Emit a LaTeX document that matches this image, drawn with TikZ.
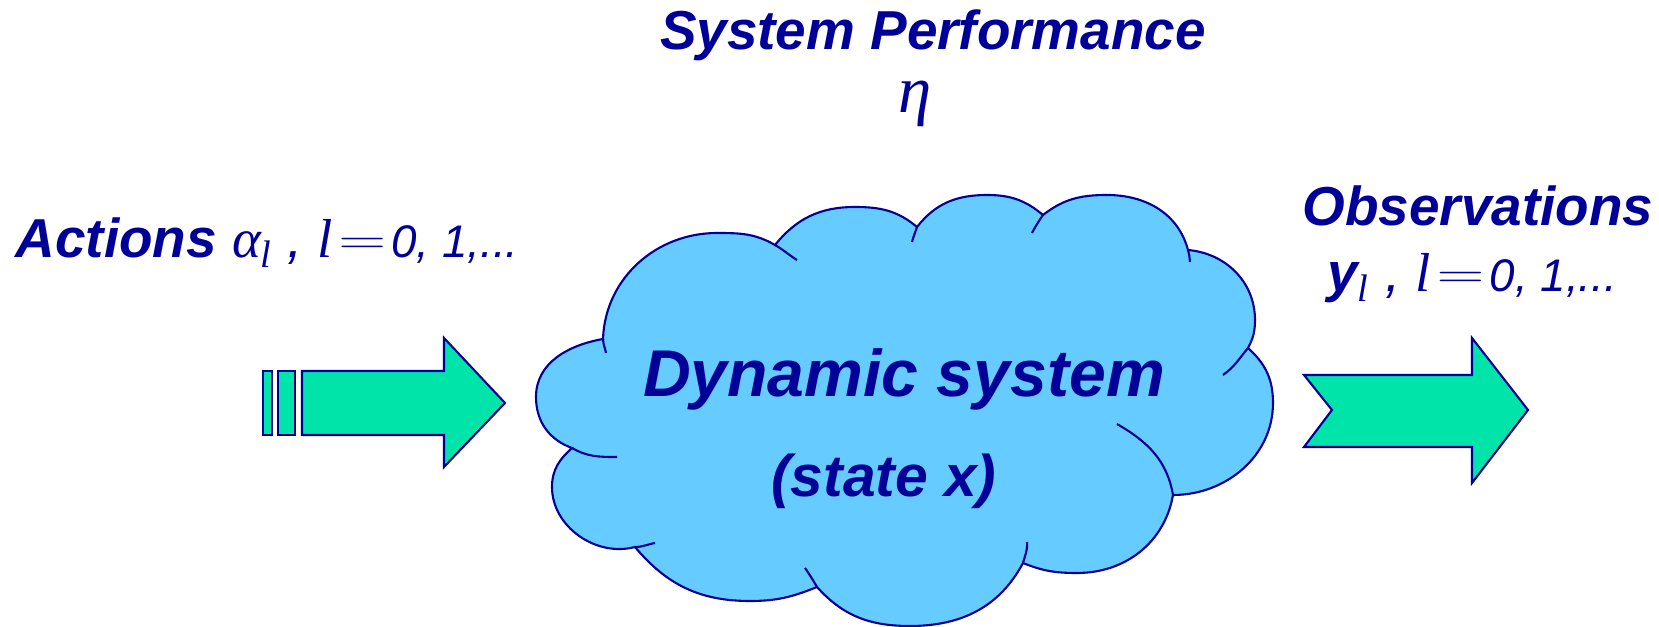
\documentclass[tikz,border=0pt]{standalone}
\usepackage{fontspec}
\setmainfont{Liberation Sans}
\newfontfamily\greekfont{Liberation Serif}
\usepackage{tikz}
\definecolor{navy}{RGB}{0,0,153}
\definecolor{cloudblue}{RGB}{102,204,255}
\definecolor{arrowgreen}{RGB}{0,228,170}
\newcommand{\idxrange}{{\greekfont l}\kern1.5pt{\fontsize{13}{15}\selectfont\raisebox{1.3pt}{\scalebox{1.5}[1]{$=$}}\kern1.5pt 0, 1,...}}

\begin{document}
\begin{tikzpicture}[x=0.01cm, y=0.01cm,
    outline/.style={draw=navy, line width=0.6pt},
    block/.style={outline, fill=arrowgreen, line join=miter},
    txt/.style={text=navy, inner sep=0pt, anchor=base, font=\fontsize{15.6}{18}\selectfont\itshape}]
\useasboundingbox (0,0) rectangle (1659,627);
% cloud
\draw[outline, fill=cloudblue]
    (603,288) to[out=88,in=180] (717,394) to[out=0,in=150] (775,382)
    to[out=51,in=180] (855,420) to[out=0,in=140] (917,400)
    to[out=52,in=180] (987,432) to[out=0,in=140] (1043,412)
    to[out=38,in=180] (1107,432) to[out=0,in=105] (1188,377)
    to[out=-5,in=90] (1255,307) to[out=-90,in=62] (1248,279)
    to[out=-42,in=90] (1273,224) to[out=-90,in=0] (1173,132)
    to[out=-100,in=0] (1077,54) to[out=180,in=-22] (1023,64)
    to[out=-118,in=0] (910,1) to[out=180,in=-48] (817,40)
    to[out=-158,in=0] (750,26) to[out=180,in=-50] (635,80)
    to[out=195,in=-90] (552,140) to[out=90,in=-138] (572,179)
    to[out=160,in=-90] (536,230) to[out=90,in=-170] (603,288) -- cycle;
\draw[outline]
    (603,288) to[out=-88,in=100] (606,274)
    (775,382) to[out=-30,in=148] (797,367)
    (917,400) to[out=-108,in=75] (912,385)
    (1043,412) to[out=-125,in=62] (1032,394)
    (1188,377) to[out=-75,in=95] (1190,365)
    (1248,279) to[out=-130,in=35] (1223,252)
    (1117,203) to[out=-30,in=100] (1173,132)
    (1023,64) to[out=75,in=-85] (1027,85)
    (817,40) to[out=120,in=-55] (805,59)
    (635,80) to[out=0,in=190] (655,84)
    (572,179) to[out=-30,in=180] (617,170);
% arrows
\draw[block] (263,192) rectangle (272,256);
\draw[block] (278,192) rectangle (295,256);
\draw[block] (302,192) -- (444,192) -- (444,160) -- (505,224) -- (444,289)
    -- (444,256) -- (302,256) -- cycle;
\draw[block] (1304,252) -- (1472,252) -- (1472,289) -- (1528,217) -- (1472,144)
    -- (1472,180) -- (1304,180) -- (1332,217) -- cycle;
% texts
\node[txt] (perf) at (933,577) {\bfseries System Performance};
\node[txt, font=\fontsize{19}{22}\selectfont\greekfont\itshape] (eta) at (915,514) {η};
\node[txt, anchor=base west] (actions) at (15,369)
    {\bfseries Actions \mdseries{\greekfont α\textsubscript{l} }, \idxrange};
\node[txt] (obs) at (1478,401) {\bfseries Observations};
\node[txt] (obsy) at (1472,335)
    {\bfseries y\textsubscript{\mdseries\greekfont l}\mdseries{} , \idxrange};
\node[txt, font=\fontsize{18.8}{22}\selectfont\bfseries\itshape] (dyn) at (904,230) {Dynamic system};
\node[txt, font=\fontsize{16.7}{20}\selectfont\bfseries\itshape] (state) at (884,130) {(state x)};
\end{tikzpicture}
\end{document}
